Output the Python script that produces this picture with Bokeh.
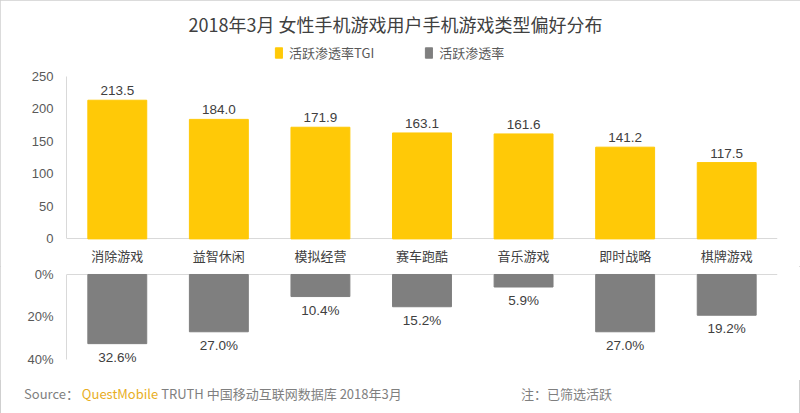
from bokeh.plotting import figure
from bokeh.layouts import column
from bokeh.models import (ColumnDataSource, Range1d, FixedTicker, PrintfTickFormatter,
                          Legend, LegendItem, Div)
from bokeh.embed import file_html
from bokeh.resources import INLINE
from bokeh.core.properties import value

# ---------------- data ----------------
categories = ["消除游戏", "益智休闲", "模拟经营", "赛车跑酷", "音乐游戏", "即时战略", "棋牌游戏"]
tgi = [213.5, 184.0, 171.9, 163.1, 161.6, 141.2, 117.5]
penetration = [32.6, 27.0, 10.4, 15.2, 5.9, 27.0, 19.2]
tgi_ticks = [0, 50, 100, 150, 200, 250]
pen_ticks = [0, 20, 40]
title_text = "2018年3月 女性手机游戏用户手机游戏类型偏好分布"
legend_labels = ["活跃渗透率TGI", "活跃渗透率"]

YELLOW = "#FFC907"
GRAY = "#7F7F7F"
CJK = "Noto Sans CJK SC"
NUM = "Liberation Sans"

src = ColumnDataSource(dict(
    cat=categories,
    tgi=tgi,
    pen=penetration,
    tgi_lbl=["%.1f" % v for v in tgi],
    pen_lbl=["%.1f%%" % v for v in penetration],
))

W = 800

# ---------------- top chart ----------------
p1 = figure(x_range=categories, y_range=Range1d(-42.5, 307), width=W, height=266,
            output_backend="svg", toolbar_location=None, x_axis_location=None,
            min_border_left=66, min_border_right=23, min_border_top=39, min_border_bottom=0)
p1.title.text = title_text
p1.title.align = "left"
p1.title.offset = 122
p1.title.standoff = 6
p1.title.text_font = CJK
p1.title.text_font_size = "18px"
p1.title.text_font_style = "normal"
p1.title.text_color = "#404040"
p1.outline_line_color = None
p1.xgrid.grid_line_color = None
p1.ygrid.ticker = FixedTicker(ticks=[0])
p1.ygrid.grid_line_color = "#D9D9D9"
p1.x_range.range_padding = 0

r1 = p1.vbar(x="cat", top="tgi", bottom=0, width=0.58, source=src, color=YELLOW)
p1.text(x="cat", y="tgi", text="tgi_lbl", source=src, text_align="center",
        text_baseline="bottom", y_offset=-5, text_font=value(NUM),
        text_font_size="13.5px", text_color="#404040")
# category labels under the baseline, placed by the categorical x scale
p1.text(x="cat", y=0, text="cat", source=src, text_align="center",
        text_baseline="middle", y_offset=17, text_font=value(CJK),
        text_font_size="13px", text_color="#404040")

p1.yaxis.ticker = FixedTicker(ticks=tgi_ticks)
p1.yaxis.bounds = (0, 250)
p1.yaxis.axis_line_color = "#D9D9D9"
p1.yaxis.major_tick_line_color = None
p1.yaxis.minor_tick_line_color = None
p1.yaxis.major_tick_out = 0
p1.yaxis.minor_tick_out = 0
p1.yaxis.major_label_standoff = 13
p1.yaxis.major_label_text_font = NUM
p1.yaxis.major_label_text_font_size = "13px"
p1.yaxis.major_label_text_color = "#595959"

# legend proxy for the gray series (hidden renderer in the top plot)
r_proxy = p1.vbar(x="cat", top="pen", width=0.58, source=src, color=GRAY, visible=False)
legend = Legend(items=[LegendItem(label=legend_labels[0], renderers=[r1]),
                       LegendItem(label=legend_labels[1], renderers=[r_proxy])],
                orientation="horizontal", location=(208, 204),
                background_fill_alpha=0, border_line_color=None,
                padding=0, margin=0, spacing=50, label_standoff=6,
                glyph_width=9, glyph_height=13,
                label_text_font=CJK, label_text_font_size="13px",
                label_text_color="#595959")
p1.add_layout(legend)

# ---------------- bottom chart ----------------
p2 = figure(x_range=p1.x_range, y_range=Range1d(46.2, -3.77), width=W, height=114,
            output_backend="svg", toolbar_location=None, x_axis_location=None,
            min_border_left=66, min_border_right=23, min_border_top=0, min_border_bottom=8)
p2.outline_line_color = None
p2.xgrid.grid_line_color = None
p2.ygrid.ticker = FixedTicker(ticks=[0])
p2.ygrid.grid_line_color = "#D9D9D9"

r2 = p2.vbar(x="cat", top="pen", bottom=0, width=0.58, source=src, color=GRAY)
p2.text(x="cat", y="pen", text="pen_lbl", source=src, text_align="center",
        text_baseline="top", y_offset=6, text_font=value(NUM),
        text_font_size="13.5px", text_color="#404040")

p2.yaxis.ticker = FixedTicker(ticks=pen_ticks)
p2.yaxis.bounds = (0, 40)
p2.yaxis.formatter = PrintfTickFormatter(format="%d%%")
p2.yaxis.axis_line_color = "#D9D9D9"
p2.yaxis.major_tick_line_color = None
p2.yaxis.minor_tick_line_color = None
p2.yaxis.major_tick_out = 0
p2.yaxis.minor_tick_out = 0
p2.yaxis.major_label_standoff = 13
p2.yaxis.major_label_text_font = NUM
p2.yaxis.major_label_text_font_size = "13px"
p2.yaxis.major_label_text_color = "#595959"

footer = Div(width=780, height=33, text=(
    '<div style="position:relative;width:780px;height:33px;font-family:\'Noto Sans CJK SC\';'
    'font-size:13px;color:#7F7F7F;white-space:nowrap;">'
    '<span style="position:absolute;left:19px;top:0px;">Source： '
    '<span style="color:#E8AE1E;">QuestMobile</span> TRUTH 中国移动互联网数据库 2018年3月</span>'
    '<span style="position:absolute;left:516px;top:0px;">注：已筛选活跃</span>'
    '</div>'))

layout = column(p1, p2, footer, spacing=0,
                styles={"outline": "1px solid #CFCFCF", "outline-offset": "-1px"})
open("out.html", "w").write(file_html(layout, INLINE))
